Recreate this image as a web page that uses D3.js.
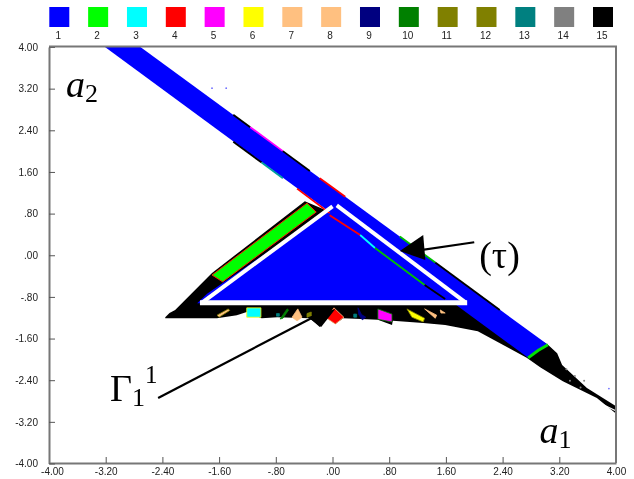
<!DOCTYPE html>
<html><head><meta charset="utf-8">
<script src="https://cdn.jsdelivr.net/npm/d3@7"></script>
<style>html,body{margin:0;padding:0;background:#fff}svg{display:block}</style>
</head><body><svg id="c" width="634" height="479"></svg>
<script>
const legendLabels=["1","2","3","4","5","6","7","8","9","10","11","12","13","14","15"];
const legendColors=["#0000ff","#00ff00","#00ffff","#ff0000","#ff00ff","#ffff00","#ffc080","#ffc080","#000080","#008000","#808000","#808000","#008080","#808080","#000000"];
const tickValues=[-4,-3.2,-2.4,-1.6,-.8,0,.8,1.6,2.4,3.2,4];
const tickLabels=["-4.00","-3.20","-2.40","-1.60","-.80",".00",".80","1.60","2.40","3.20","4.00"];
const basinBlack=[[-2.36,-1.2],[-2.3,-1.12],[-2.22,-1.06],[-1.7,-.35],[-.39,1.03],[.04,.78],[3.04,-1.73],[3.17,-1.89],[3.24,-2.12],[3.59,-2.56],[3.99,-2.9],[3.99,-3.04],[3.73,-2.75],[3.25,-2.43],[2.93,-2.16],[2.74,-1.98],[2.05,-1.47],[1.59,-1.35],[1.28,-1.31],[.85,-1.27],[.84,-1.35],[.64,-1.25],[.49,-1.24],[.15,-1.22],[.04,-1.33],[-.08,-1.22],[-.18,-1.39],[-.32,-1.22],[-.78,-1.2],[-1,-1.22],[-1.21,-1.1],[-1.35,-1.16],[-1.63,-1.22],[-2.36,-1.22]];
const band=[[-3.22,4],[-2.72,4],[3.04,-1.73],[2.76,-1.98]];
const stripGreen=[[-1.7,-.39],[-.36,.99],[-.23,.82],[-1.55,-.52]];
const triangle=[[-1.91,-.93],[-1.77,-.75],[.04,.95],[1.88,-.92]];
const whiteLeft=[[-1.84,-.92],[.0,.93]];
const whiteRight=[[.06,.95],[1.88,-.92]];
const whiteBase=[[-1.87,-.92],[1.9,-.92]];
const fringes=[
 {color:"#000000",pts:[[-1.4,2.69],[-1.16,2.45]]},
 {color:"#ff00ff",pts:[[-1.16,2.45],[-.7,1.99]]},
 {color:"#000000",pts:[[-.7,1.99],[-.32,1.61]]},
 {color:"#ff0000",pts:[[-.18,1.47],[.18,1.115]]},
 {color:"#00c000",pts:[[.95,.35],[1.45,-.15]]},
 {color:"#000000",pts:[[1.45,-.15],[2.36,-1.06]]},
 {color:"#000000",pts:[[-1.4,2.17],[-1,1.77]]},
 {color:"#00a0a0",pts:[[-1,1.77],[-.7,1.47]]},
 {color:"#ff0000",pts:[[-.5,1.27],[-.04,.8]]},
 {color:"#ff0000",pts:[[-.04,.76],[.39,.38]]},
 {color:"#00ffff",pts:[[.39,.38],[.6,.13]]},
 {color:"#00c000",pts:[[.6,.13],[1.3,-.58]]},
 {color:"#000000",pts:[[1.3,-.58],[1.59,-.85]]}
];
const inclusions=[
 {fill:"#00ffff",edge:"#ffff00",pts:[[-1.21,-1.02],[-1.01,-1.02],[-1.01,-1.2],[-1.21,-1.2]]},
 {fill:"#ffc080",edge:"#808000",pts:[[-1.63,-1.16],[-1.47,-1.04],[-1.45,-1.07],[-1.6,-1.2]]},
 {fill:"#008000",edge:"#008000",pts:[[-.74,-1.235],[-.64,-1.04],[-.62,-1.06],[-.7,-1.22]]},
 {fill:"#008080",edge:"#008080",pts:[[-.79,-1.13],[-.75,-1.13],[-.75,-1.18],[-.79,-1.18]]},
 {fill:"#ffc080",edge:"#ffc080",pts:[[-.57,-1.2],[-.49,-1.04],[-.43,-1.2],[-.5,-1.27]]},
 {fill:"#808000",edge:"#808000",pts:[[-.36,-1.13],[-.3,-1.1],[-.3,-1.18],[-.36,-1.2]]},
 {fill:"#ff0000",edge:"#ffc080",pts:[[.02,-1.02],[.16,-1.2],[.04,-1.33],[-.08,-1.22]]},
 {fill:"#008080",edge:"#008080",pts:[[.3,-1.14],[.34,-1.14],[.34,-1.2],[.3,-1.2]]},
 {fill:"#000080",edge:"#000080",pts:[[.36,-1.02],[.41,-1.15],[.47,-1.2],[.42,-1.25],[.37,-1.15]]},
 {fill:"#ff00ff",edge:"#008000",pts:[[.64,-1.04],[.84,-1.14],[.84,-1.29],[.64,-1.24]]},
 {fill:"#ffff00",edge:"#808000",pts:[[1.05,-1.04],[1.3,-1.22],[1.28,-1.29],[1.12,-1.2]]},
 {fill:"#ffc080",edge:"#ffc080",pts:[[1.3,-1.04],[1.47,-1.16],[1.45,-1.22]]},
 {fill:"#ffc080",edge:"#ffc080",pts:[[1.52,-1.06],[1.59,-1.12],[1.53,-1.12]]}
];
const specks=[[-1.7,3.2],[-1.5,3.2],[3.9,-2.57]];
const greenCap=[[2.76,-1.98],[2.9,-1.84],[3.04,-1.73]];
const tailGap=[[3.82,-2.88],[3.99,-2.99]];
const tailGrey=[[3.3,-2.2],[3.42,-2.33],[3.55,-2.42],[3.35,-2.42],[3.5,-2.55]];
const arrowTauLine=[[2.0,.24],[1.1,.06]];
const arrowTauHead=[[.95,.07],[1.28,.38],[1.31,-.1]];
const arrowGammaLine=[[-2.46,-2.75],[-.3,-1.22]];
const arrowGammaHead=[[-.35,-1.2],[-.16,-1.39],[.04,-1.04]];

const svg=d3.select("#c");
const defs=svg.append("defs");
defs.append("filter").attr("id","soft").attr("x","0").attr("y","0").attr("width","100%").attr("height","100%")
 .append("feGaussianBlur").attr("stdDeviation",.4);
const root=svg.append("g").attr("filter","url(#soft)");
root.append("rect").attr("width",634).attr("height",479).attr("fill","#fff");
const x=d3.scaleLinear().domain([-4,4]).range([49,616]);
const y=d3.scaleLinear().domain([-4,4]).range([463,46.5]);
const line=d3.line().x(d=>x(d[0])).y(d=>y(d[1]));
const poly=d=>line(d)+"Z";

// legend
const lx=d3.scalePoint().domain(legendLabels).range([49.3,593]);
const lg=root.append("g");
lg.selectAll("rect").data(legendLabels).join("rect")
 .attr("x",d=>lx(d)).attr("y",7).attr("width",20).attr("height",20)
 .attr("fill",(d,i)=>legendColors[i]);
lg.selectAll("text").data(legendLabels).join("text")
 .attr("x",d=>lx(d)+9).attr("y",38.5).attr("text-anchor","middle")
 .attr("font-family","Liberation Sans").attr("font-size",10).attr("fill","#222").text(d=>d);

// marks
const m=root.append("g");
m.append("path").attr("d",poly(basinBlack)).attr("fill","#000");
m.append("path").attr("d",poly(stripGreen)).attr("fill","#00ff00").attr("stroke","#ff2000").attr("stroke-width",1);
m.append("path").attr("d",poly(band)).attr("fill","#0000ff");
m.append("path").attr("d",poly(triangle)).attr("fill","#0000ff");
m.selectAll(".fr").data(fringes).join("path").attr("class","fr").attr("d",d=>line(d.pts))
 .attr("fill","none").attr("stroke",d=>d.color).attr("stroke-width",1.8);
m.append("path").attr("d",line(greenCap)).attr("fill","none").attr("stroke","#00e000").attr("stroke-width",3);
m.append("path").attr("d",line(tailGap)).attr("fill","none").attr("stroke","#fff").attr("stroke-width",1.2);
m.selectAll(".gr").data(tailGrey).join("circle").attr("class","gr").attr("cx",d=>x(d[0])).attr("cy",d=>y(d[1])).attr("r",1).attr("fill","#888");
m.selectAll(".inc").data(inclusions).join("path").attr("class","inc").attr("d",d=>poly(d.pts))
 .attr("fill",d=>d.fill).attr("stroke",d=>d.edge).attr("stroke-width",.8);
m.selectAll(".sp").data(specks).join("circle").attr("class","sp").attr("cx",d=>x(d[0])).attr("cy",d=>y(d[1])).attr("r",.9).attr("fill","#7070ff");

// white triangle
[whiteLeft,whiteRight].forEach(s=>m.append("path").attr("d",line(s)).attr("stroke","#fff").attr("stroke-width",4).attr("fill","none"));
m.append("path").attr("d",line(whiteBase)).attr("stroke","#fff").attr("stroke-width",5).attr("fill","none");

// axes
const ax=root.append("g");
const xAxis=d3.axisBottom(x).tickValues(tickValues).tickFormat((d,i)=>tickLabels[i]).tickSizeInner(-6).tickSizeOuter(0).tickPadding(5);
const yAxis=d3.axisLeft(y).tickValues(tickValues).tickFormat((d,i)=>tickLabels[i]).tickSizeInner(-6).tickSizeOuter(0).tickPadding(11);
const gx=ax.append("g").attr("transform","translate(0,463)").call(xAxis);
const gy=ax.append("g").attr("transform","translate(49,0.5)").call(yAxis);
[gx,gy].forEach(g=>{
 g.selectAll("text").attr("font-family","Liberation Sans").attr("font-size",10).attr("fill","#222");
 g.selectAll("line").attr("stroke","#555").attr("stroke-width",1);
 g.select(".domain").attr("stroke","#777").attr("stroke-width",2);
});
gx.selectAll("text").filter((d,i)=>i===0).attr("dx",3);
ax.append("path").attr("d",`M49,46.5H616V463`).attr("fill","none").attr("stroke","#777").attr("stroke-width",2);

// arrows
const an=root.append("g");
an.append("path").attr("d",line(arrowTauLine)).attr("stroke","#000").attr("stroke-width",2.2);
an.append("path").attr("d",poly(arrowTauHead)).attr("fill","#000");
an.append("path").attr("d",line(arrowGammaLine)).attr("stroke","#000").attr("stroke-width",2.2);
an.append("path").attr("d",poly(arrowGammaHead)).attr("fill","#000");

// labels
function math(px,py,parts,size){
 const t=root.append("text").attr("x",x(px)).attr("y",y(py)).attr("font-family","Liberation Serif").attr("font-size",size).attr("fill","#000");
 parts.forEach(p=>{const s=t.append("tspan").text(p.t);
  if(p.i)s.attr("font-style","italic");
  if(p.s)s.attr("font-size",p.s);
  if(p.dy)s.attr("dy",p.dy);});
}
math(-3.76,3.03,[{t:"a",i:1},{t:"2",s:26,dy:5}],38);
math(2.92,-3.62,[{t:"a",i:1},{t:"1",s:26,dy:5}],38);
math(2.07,-.25,[{t:"(τ)"}],38);
math(-3.14,-2.81,[{t:"Γ"},{t:"1",s:26,dy:5},{t:"1",s:25,dy:-23}],38);
</script></body></html>
